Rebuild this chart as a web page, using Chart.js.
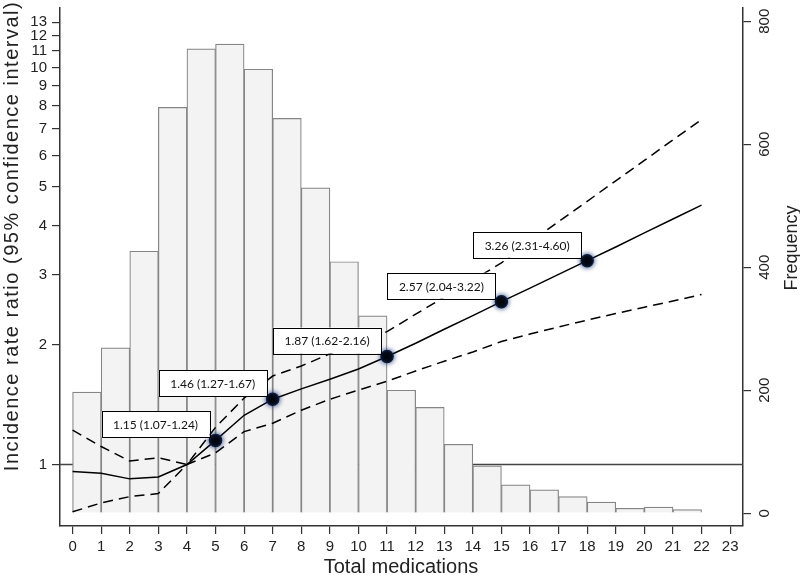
<!DOCTYPE html>
<html>
<head>
<meta charset="utf-8">
<script src="https://cdn.jsdelivr.net/npm/chart.js@4.4.1/dist/chart.umd.min.js"></script>
<style>
  html, body { margin: 0; padding: 0; background: #fff; }
</style>
</head>
<body>
<canvas id="irrChart" width="800" height="575"></canvas>
<script>
// number of medications (x) and histogram counts for bins [i, i+1)
const medications = [0, 1, 2, 3, 4, 5, 6, 7, 8, 9, 10, 11, 12, 13, 14, 15, 16, 17, 18, 19, 20, 21, 22];
const freqCounts = [197, 269, 426, 660, 755, 763, 722, 642, 529, 409, 321, 200, 172, 112, 77, 46, 38, 27, 18, 8, 10, 6];

// incidence rate ratio with 95% CI
const irr = [0.96, 0.95, 0.92, 0.93, 1.00, 1.15, 1.33, 1.46, 1.55, 1.64, 1.74, 1.87, 2.02, 2.19, 2.37, 2.57, 2.78, 3.01, 3.26, 3.53, 3.83, 4.15, 4.50];
const irrUpper = [1.22, 1.11, 1.02, 1.04, 1.00, 1.24, 1.47, 1.67, 1.77, 1.90, 2.05, 2.16, 2.39, 2.64, 2.91, 3.22, 3.63, 4.09, 4.60, 5.18, 5.83, 6.57, 7.39];
const irrLower = [0.76, 0.80, 0.83, 0.845, 1.00, 1.07, 1.21, 1.27, 1.37, 1.46, 1.54, 1.62, 1.72, 1.82, 1.92, 2.04, 2.13, 2.22, 2.31, 2.40, 2.49, 2.58, 2.68];

// highlighted points and their labels
const markedX = [5, 7, 11, 15, 18];
const markedLabels = ['1.15 (1.07-1.24)', '1.46 (1.27-1.67)', '1.87 (1.62-2.16)', '2.57 (2.04-3.22)', '3.26 (2.31-4.60)'];

// tick labels
const xTicks = [0, 1, 2, 3, 4, 5, 6, 7, 8, 9, 10, 11, 12, 13, 14, 15, 16, 17, 18, 19, 20, 21, 22, 23];
const irrTicks = [1, 2, 3, 4, 5, 6, 7, 8, 9, 10, 11, 12, 13];
const freqTicks = [0, 200, 400, 600, 800];

const tickFont = { family: 'Liberation Sans, Arial, sans-serif', size: 15 };
const inkColor = '#222';

const toPoints = (ys) => medications.map((m, i) => ({ x: m, y: ys[i] }));

const pointGlow = {
    id: 'pointGlow',
    beforeDatasetDraw(chart, args) {
        if (args.index !== 5) return;
        const ctx = chart.ctx;
        ctx.save();
        ctx.shadowColor = 'rgba(20, 50, 120, 0.9)';
        ctx.shadowBlur = 5;
    },
    afterDatasetDraw(chart, args) {
        if (args.index !== 5) return;
        chart.ctx.restore();
    }
};

const extras = {
    id: 'extras',
    afterDraw(chart) {
        const ctx = chart.ctx;
        const x = chart.scales.x, y = chart.scales.y, y2 = chart.scales.y2;

        // label boxes
        ctx.save();
        ctx.font = '12px Lato, "Open Sans", sans-serif';
        ctx.textAlign = 'center';
        ctx.textBaseline = 'middle';
        markedX.forEach((mx, i) => {
            const px = x.getPixelForValue(mx);
            const py = y.getPixelForValue(irr[medications.indexOf(mx)]);
            const w = 108, h = 26;
            const right = px - 6, bottom = py - 3;
            ctx.fillStyle = '#fff';
            ctx.fillRect(right - w, bottom - h, w, h);
            ctx.strokeStyle = '#000';
            ctx.lineWidth = 1;
            ctx.strokeRect(Math.round(right - w) + 0.5, Math.round(bottom - h) + 0.5, w, h);
            ctx.fillStyle = '#111';
            ctx.fillText(markedLabels[i], right - w / 2, bottom - h / 2 + 1);
        });
        ctx.restore();

        // right axis labels, rotated
        ctx.save();
        ctx.fillStyle = inkColor;
        ctx.font = '15px Liberation Sans, Arial, sans-serif';
        ctx.textAlign = 'center';
        ctx.textBaseline = 'middle';
        freqTicks.forEach(v => {
            const py = y2.getPixelForValue(v);
            ctx.save();
            ctx.translate(765, py);
            ctx.rotate(-Math.PI / 2);
            ctx.fillText(String(v), 0, 0);
            ctx.restore();
        });

        // axis titles
        ctx.font = '18px Liberation Sans, Arial, sans-serif';
        ctx.textBaseline = 'alphabetic';
        ctx.save();
        ctx.translate(797, 248);
        ctx.rotate(-Math.PI / 2);
        ctx.fillText('Frequency', 0, 0);
        ctx.restore();

        ctx.font = '20px Liberation Sans, Arial, sans-serif';
        ctx.save();
        ctx.letterSpacing = '1.5px';
        ctx.translate(18, 236);
        ctx.rotate(-Math.PI / 2);
        ctx.fillText('Incidence rate ratio (95% confidence interval)', 0, 0);
        ctx.restore();

        ctx.fillText('Total medications', 401, 573);
        ctx.restore();
    }
};

const axisBorder = { color: '#333', width: 1.5 };
const axisGrid = { drawOnChartArea: false, tickLength: 8, color: '#333', lineWidth: 1.2 };

new Chart(document.getElementById('irrChart'), {
    type: 'bar',
    data: {
        datasets: [
            {
                type: 'line',
                data: [{ x: -1, y: 1 }, { x: 24, y: 1 }],
                borderColor: '#444',
                borderWidth: 1.5,
                pointRadius: 0,
                yAxisID: 'y',
                order: 5
            },
            {
                type: 'bar',
                data: freqCounts.map((c, i) => ({ x: medications[i] + 0.5, y: c })),
                backgroundColor: '#f3f3f3',
                borderColor: '#858585',
                borderWidth: 1.2,
                barPercentage: 1,
                categoryPercentage: 1,
                yAxisID: 'y2',
                order: 4
            },
            {
                type: 'line',
                data: toPoints(irrUpper),
                borderColor: '#000',
                borderWidth: 1.5,
                borderDash: [10, 6],
                pointRadius: 0,
                tension: 0,
                yAxisID: 'y',
                order: 3
            },
            {
                type: 'line',
                data: toPoints(irrLower),
                borderColor: '#000',
                borderWidth: 1.5,
                borderDash: [10, 6],
                pointRadius: 0,
                tension: 0,
                yAxisID: 'y',
                order: 2
            },
            {
                type: 'line',
                data: toPoints(irr),
                borderColor: '#000',
                borderWidth: 1.5,
                pointRadius: 0,
                tension: 0,
                yAxisID: 'y',
                order: 1
            },
            {
                type: 'line',
                data: markedX.map(mx => ({ x: mx, y: irr[medications.indexOf(mx)] })),
                showLine: false,
                pointRadius: 6,
                pointBackgroundColor: '#000',
                pointBorderColor: '#0d1a3a',
                pointBorderWidth: 1.5,
                yAxisID: 'y',
                order: 0
            }
        ]
    },
    options: {
        responsive: false,
        animation: false,
        devicePixelRatio: 1,
        layout: { padding: 0 },
        plugins: { legend: { display: false }, tooltip: { enabled: false } },
        scales: {
            x: {
                type: 'linear',
                position: 'bottom',
                min: -0.44,
                max: 23.45,
                offset: false,
                grid: { ...axisGrid, offset: false },
                border: axisBorder,
                ticks: { font: tickFont, color: inkColor, padding: 4, autoSkip: false, maxRotation: 0 },
                afterBuildTicks: (scale) => { scale.ticks = xTicks.map(v => ({ value: v })); },
                afterFit: (scale) => { scale.height = 49; scale.paddingLeft = 0; scale.paddingRight = 0; }
            },
            y: {
                type: 'logarithmic',
                position: 'left',
                min: 0.704,
                max: 14.15,
                grid: axisGrid,
                border: axisBorder,
                ticks: { font: tickFont, color: inkColor, padding: 5, callback: (v) => String(v) },
                afterBuildTicks: (scale) => { scale.ticks = irrTicks.map(v => ({ value: v })); },
                afterFit: (scale) => { scale.width = 60; scale.paddingTop = 0; scale.paddingBottom = 0; }
            },
            y2: {
                type: 'linear',
                position: 'right',
                min: -20.8,
                max: 822.4,
                grid: axisGrid,
                border: axisBorder,
                ticks: { display: false },
                afterBuildTicks: (scale) => { scale.ticks = freqTicks.map(v => ({ value: v })); },
                afterFit: (scale) => { scale.width = 57; scale.paddingTop = 0; scale.paddingBottom = 0; }
            }
        }
    },
    plugins: [pointGlow, extras]
});
</script>
</body>
</html>
